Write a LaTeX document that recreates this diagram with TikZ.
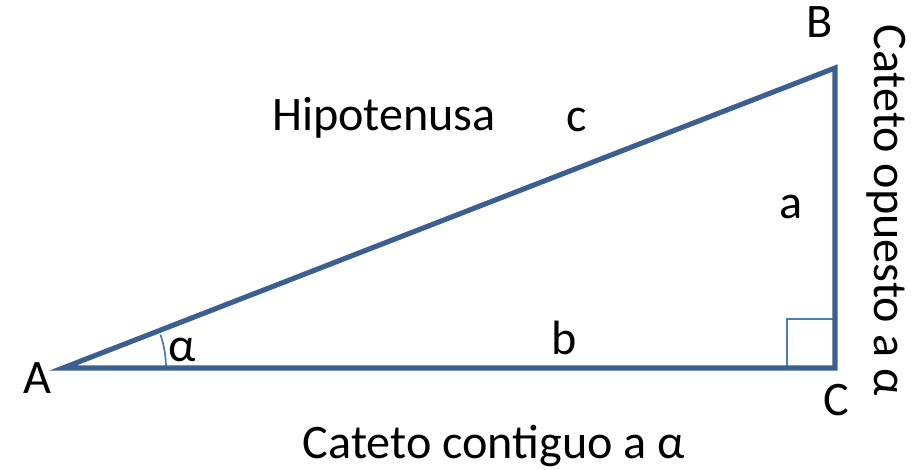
\documentclass[tikz,border=0pt]{standalone}
\usepackage{fontspec}
\setmainfont{Carlito}
\usetikzlibrary{positioning,calc}
\definecolor{TriBlue}{RGB}{60,95,145}
\definecolor{MarkBlue}{RGB}{74,126,187}

\begin{document}
\begin{tikzpicture}[
side/.style={draw=TriBlue,line width=2.9pt,line cap=round,line join=miter},
anglemark/.style={draw=MarkBlue,line width=1pt},
lbl/.style={font=\fontsize{27.4}{32}\selectfont,inner sep=0pt}
]
\useasboundingbox (0,0) rectangle (18.4,9.38);
\coordinate (A) at (1.26,2.02);
\coordinate (C) at (16.7,2.02);
\coordinate (B) at (16.7,8.02);
% right angle and angle mark
\draw[anglemark] ($(C)+(-0.96,0)$) |- ($(C)+(0,0.98)$);
\draw[anglemark] ($(A)+(2.06,0)$) arc (0:19:2.06);
\draw[side] (A) -- (C) -- (B) -- cycle;
% vertex names
\node[lbl] (nA) at (0.74,1.82) {A};
\node[lbl] (nB) at (16.4,8.94) {B};
\node[lbl] (nC) at (16.72,1.38) {C};
% sides
\node[lbl] (hyp) at (7.68,7.02) {Hipotenusa};
\node[lbl] (lc) at (11.54,6.98) {c};
\node[lbl] (la) at (15.82,5.24) {a};
\node[lbl] (lb) at (11.28,2.62) {b};
\node[lbl] (alpha) at (3.64,2.38) {α};
\node[lbl] (adj) at (9.88,0.46) {Cateto contiguo a α};
\node[lbl,rotate=-90] (opp) at (17.72,5.18) {Cateto opuesto a α};
\end{tikzpicture}
\end{document}
